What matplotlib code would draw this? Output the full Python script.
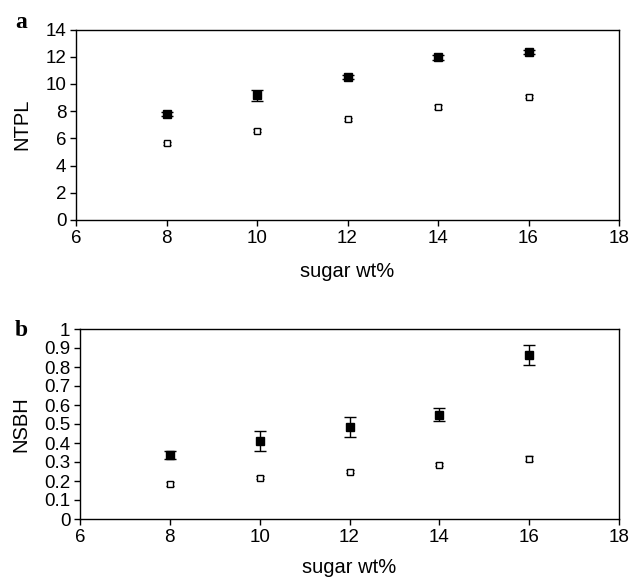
import matplotlib
matplotlib.use("Agg")
import matplotlib.pyplot as plt

plt.rcParams["font.family"] = ["Liberation Sans", "DejaVu Sans"]

sugar = [8, 10, 12, 14, 16]

ntpl_filled = [7.80, 9.15, 10.48, 11.95, 12.35]
ntpl_filled_err = [0.15, 0.40, 0.15, 0.20, 0.15]
ntpl_open = [5.64, 6.57, 7.40, 8.31, 9.07]
ntpl_open_err = [0.12, 0.12, 0.10, 0.15, 0.10]

nsbh_filled = [0.337, 0.412, 0.486, 0.549, 0.861]
nsbh_filled_err = [0.020, 0.052, 0.053, 0.034, 0.053]
nsbh_open = [0.184, 0.217, 0.249, 0.286, 0.317]
nsbh_open_err = [0.010, 0.008, 0.008, 0.008, 0.014]

W, H = 630, 577
fig = plt.figure(figsize=(W / 100, H / 100), dpi=100, facecolor="white")


def panel(rect, filled, ferr, opn, oerr, ylim, yticks, yticklabels, ylabel,
          letter, letter_xy, xlab_pad):
    ax = fig.add_axes(rect)
    ax.errorbar(sugar, filled, yerr=ferr, fmt="s", color="black", ms=6,
                elinewidth=1, capsize=4, capthick=1)
    ax.errorbar(sugar, opn, yerr=oerr, fmt="s", color="black", mfc="white",
                mec="black", ms=4.5, mew=1, elinewidth=1, capsize=3, capthick=1)
    ax.set_xlim(6, 18)
    ax.set_ylim(*ylim)
    ax.set_xticks([6, 8, 10, 12, 14, 16, 18])
    ax.set_yticks(yticks)
    ax.set_yticklabels(yticklabels)
    ax.tick_params(direction="out", length=4, width=1, labelsize=13.5, pad=3)
    ax.set_xlabel("sugar wt%", fontsize=14.5, labelpad=xlab_pad)
    ax.set_ylabel(ylabel, fontsize=14.5, labelpad=10)
    for s in ax.spines.values():
        s.set_linewidth(1)
    fig.text(letter_xy[0] / W, 1 - letter_xy[1] / H, letter, fontsize=17,
             fontweight="bold", family="Liberation Serif", ha="left", va="baseline")
    return ax


# panel a: x 76..619, y 29.5..220 (pixels)
panel([76 / W, 1 - 220 / H, (619 - 76) / W, (220 - 29.5) / H],
      ntpl_filled, ntpl_filled_err, ntpl_open, ntpl_open_err,
      (0, 14), list(range(0, 15, 2)), [str(v) for v in range(0, 15, 2)],
      "NTPL", "a", (15, 28), 11)

# panel b: x 80..619, y 329..519
bt = [i / 10 for i in range(11)]
panel([80 / W, 1 - 519 / H, (619 - 80) / W, (519 - 329) / H],
      nsbh_filled, nsbh_filled_err, nsbh_open, nsbh_open_err,
      (0, 1), bt, ["0"] + [f"{v:.1f}" for v in bt[1:-1]] + ["1"],
      "NSBH", "b", (15, 336), 9)

fig.savefig("out.png", dpi=100, facecolor="white")
